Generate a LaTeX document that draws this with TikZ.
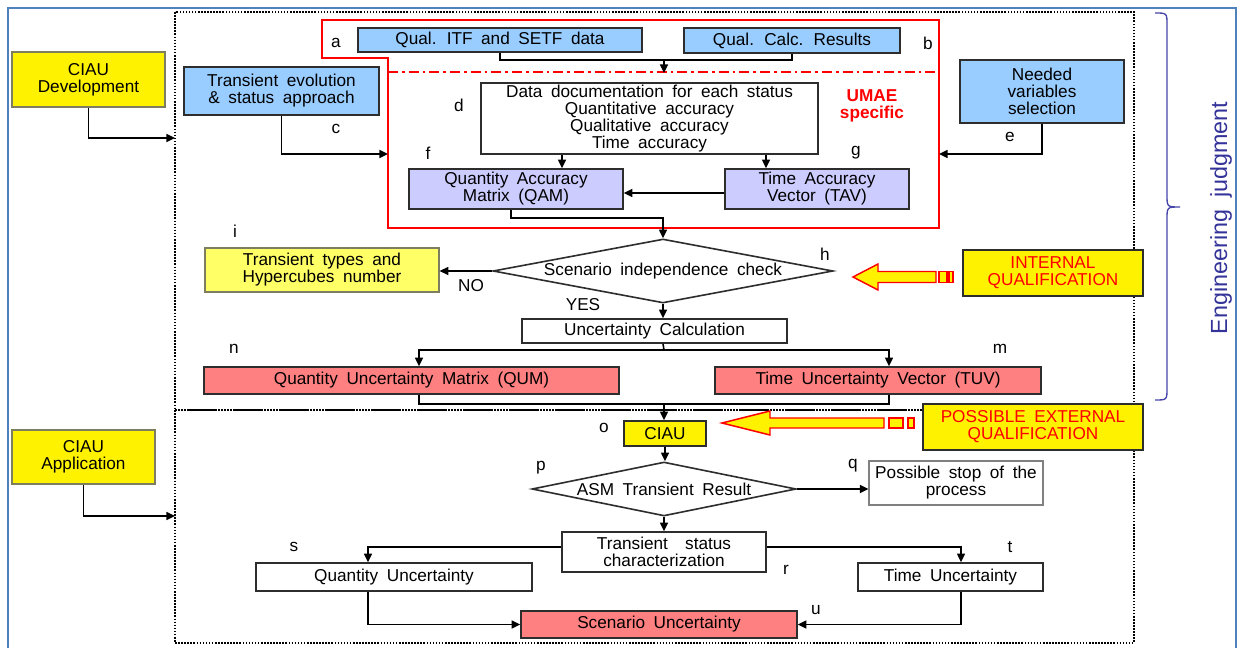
\documentclass[tikz,border=0pt]{standalone}
\usepackage{fontspec}
\setmainfont{Liberation Sans}[WordSpace=1.8]
\usetikzlibrary{shapes.geometric,arrows.meta,calc}
\definecolor{frameblue}{RGB}{79,129,189}
\definecolor{boxline}{RGB}{45,45,45}
\definecolor{sideline}{RGB}{125,125,95}
\definecolor{skyfill}{RGB}{153,204,255}
\definecolor{lavfill}{RGB}{204,204,255}
\definecolor{paleyellow}{RGB}{255,255,102}
\definecolor{salmon}{RGB}{255,128,128}
\definecolor{judgeblue}{RGB}{51,51,153}
\definecolor{bracecol}{RGB}{70,70,170}
\newcommand\bodyfs{\fontsize{12.9}{12.75}\selectfont}

\begin{document}
\begin{tikzpicture}[x=0.75pt,y=-0.75pt,
  wh/.style 2 args={minimum width=#1*0.75pt,minimum height=#2*0.75pt},
  box/.style={draw=boxline,line width=1.2pt,inner sep=0pt,align=center,font=\bodyfs},
  bluebox/.style={box,fill=skyfill},
  lavbox/.style={box,fill=lavfill},
  whitebox/.style={box,fill=white},
  thinbox/.style={box,fill=white,draw=gray,line width=0.8pt},
  redbox/.style={box,fill=salmon},
  ybox/.style={box,fill=yellow},
  sidebox/.style={box,fill=yellow,draw=sideline,line width=0.9pt},
  qualbox/.style={ybox,text=red},
  decision/.style={box,fill=white,shape=diamond,shape aspect=5.2},
  tag/.style={inner sep=0pt,font=\bodyfs},
  link/.style={draw=black,line width=1.2pt},
  arr/.style={link,-{Triangle[length=6.5pt,width=6pt]}},
  dotframe/.style={draw=black,line width=1.8pt,dash pattern=on 1.2pt off 1.1pt},
  blockarrow/.style={draw=red,fill=yellow,line width=1.1pt,line join=miter},
]
\useasboundingbox (0,0) rectangle (1239,648);
\fill[white] (0,0) rectangle (1239,648);

% outer frame
\draw[frameblue,line width=1.5pt] (8,650) -- (8,8) -- (1236,8) -- (1236,650);

% development and application areas
\draw[dotframe] (175,12) rectangle (1134,410);
\draw[dotframe] (175,410) rectangle (1134,643);

% UMAE specific region
\draw[red,line width=1.2pt] (322,20) -- (939,20) -- (939,228) -- (388,228) -- (388,58) -- (322,58) -- cycle;
\draw[red,line width=1.2pt,dash pattern=on 7.5pt off 3pt on 2pt off 3pt] (388,72) -- (939,72);

% side boxes
\node[sidebox,wh={153}{55}] (cdev) at (88.5,79.5) {CIAU\\Development};
\node[sidebox,wh={143}{54}] (capp) at (83.5,457) {CIAU\\Application};

% development steps
\node[bluebox,wh={195}{48}] (tevo) at (281.5,91) {Transient evolution\\\& status approach};
\node[bluebox,wh={284}{24}] (itf) at (500,40) {Qual. ITF and SETF data};
\node[bluebox,wh={216}{25}] (calc) at (792,40.5) {Qual. Calc. Results};
\node[whitebox,wh={337}{71}] (ddoc) at (649.5,118.5) {Data documentation for each status\\Quantitative accuracy\\Qualitative accuracy\\Time accuracy};
\node[lavbox,wh={214}{40}] (qam) at (516,189) {Quantity Accuracy\\Matrix (QAM)};
\node[lavbox,wh={184}{40}] (tav) at (817,189) {Time Accuracy\\Vector (TAV)};
\node[bluebox,wh={164}{63}] (need) at (1042,91.5) {Needed\\variables\\selection};
\node[box,fill=paleyellow,draw=sideline,line width=0.9pt,wh={234}{44}] (ttyp) at (322,270) {Transient types and\\Hypercubes number};
\node[decision,wh={340}{64}] (sic) at (663,271) {Scenario independence check};
\node[whitebox,wh={265}{24}] (uc) at (654.5,331) {Uncertainty Calculation};
\node[redbox,wh={415}{27}] (qum) at (411.5,380.5) {Quantity Uncertainty Matrix (QUM)};
\node[redbox,wh={326}{27}] (tuv) at (878,380.5) {Time Uncertainty Vector (TUV)};

% qualification boxes
\node[qualbox,wh={180}{46}] (iq) at (1053,273) {INTERNAL\\QUALIFICATION};
\node[qualbox,wh={220}{46}] (eq) at (1033,427) {POSSIBLE EXTERNAL\\QUALIFICATION};

% application steps
\node[ybox,wh={82}{25}] (ciau) at (665,433.5) {CIAU};
\node[decision,wh={264}{54}] (asm) at (664,489) {ASM Transient Result};
\node[thinbox,wh={174}{44}] (stop) at (956,483) {Possible stop of the\\process};
\node[whitebox,wh={204}{40}] (tsc) at (664,552) {Transient\ \ status\\characterization};
\node[whitebox,wh={276}{28}] (qu) at (394,577) {Quantity Uncertainty};
\node[whitebox,wh={185}{28}] (tu) at (950.5,577) {Time Uncertainty};
\node[redbox,wh={276}{27}] (scen) at (659,624.5) {Scenario Uncertainty};

% step letters
\node[tag] (la) at (336,43) {a};
\node[tag] (lb) at (928,43) {b};
\node[tag] (lc) at (336,129) {c};
\node[tag] (ld) at (459,105) {d};
\node[tag] (le) at (1010,137) {e};
\node[tag] (lf) at (428,153) {f};
\node[tag] (lg) at (856,153) {g};
\node[tag] (lh) at (825,254) {h};
\node[tag] (li) at (235,231) {i};
\node[tag] (ln) at (234,349) {n};
\node[tag] (lm) at (1000,349) {m};
\node[tag] (lo) at (604,428) {o};
\node[tag] (lp) at (541,468) {p};
\node[tag] (lq) at (853,466) {q};
\node[tag] (lr) at (786,570) {r};
\node[tag] (ls) at (294,547) {s};
\node[tag] (lt) at (1010,547) {t};
\node[tag] (lu) at (816,610) {u};
\node[tag] (no) at (471,286) {NO};
\node[tag] (yes) at (583,305) {YES};
\node[tag,text=red,font=\bodyfs\bfseries,align=center] (umae) at (872,106) {UMAE\\specific};

% engineering judgment brace
\draw[bracecol,line width=1pt] (1155,13) .. controls (1167,13) .. (1167,25) -- (1167,195)
  .. controls (1167,207) .. (1180,207) .. controls (1167,207) .. (1167,219) -- (1167,388)
  .. controls (1167,400) .. (1155,400);
\node[tag,rotate=90,text=judgeblue,font=\fontsize{17.5}{18}\selectfont] (ej) at (1221,218) {Engineering judgment};

% qualification arrows
\draw[blockarrow] (853,277) -- (878,264) -- (878,271.5) -- (936,271.5) -- (936,282.5) -- (878,282.5) -- (878,290) -- cycle;
\draw[blockarrow] (939,271.5) rectangle (947,282.5);
\draw[blockarrow] (949,271.5) rectangle (953,282.5);
\draw[blockarrow] (722,423) -- (770,411) -- (770,418) -- (884,418) -- (884,428) -- (770,428) -- (770,435) -- cycle;
\draw[blockarrow] (889,418) rectangle (903,428);
\draw[blockarrow] (908,418) rectangle (914,428);

% connectors
\coordinate (devin) at (175,138);
\coordinate (appin) at (175,516);
\coordinate (cin) at (388,154);
\coordinate (ein) at (939,154);
\coordinate (merge1) at (664,60);
\coordinate (ddin) at (664,73);
\coordinate (split) at (664,350);
\coordinate (merge2) at (664,404);

\draw[arr] (cdev.south) |- (devin);
\draw[arr] (capp.south) |- (appin);
\draw[arr] (tevo.south) |- (cin);
\draw[arr] (need.south) |- (ein);
\draw[link] (itf.south) |- (merge1) -| (calc.south);
\draw[arr] (merge1) -- (ddin);
\draw[arr] ($(ddoc.south)+(-87.5,0)$) -- ($(qam.north)+(46,0)$);
\draw[arr] ($(ddoc.south)+(116.5,0)$) -- ($(tav.north)+(-51,0)$);
\draw[arr] ($(tav.west)+(0,4)$) -- ($(qam.east)+(0,4)$);
\draw[arr] ($(qam.south)+(-5,0)$) -- ++(0,8) -| (sic.north);
\draw[arr] (sic.west) -- (sic.west -| ttyp.east);
\draw[arr] (sic.south) -- (sic.south |- uc.north);
\draw[link] (sic.south |- uc.south) -- (split);
\draw[arr] (split) -| ($(qum.north)+(7.5,0)$);
\draw[arr] (split) -| ($(tuv.north)+(11,0)$);
\draw[link] ($(qum.south)+(7.5,0)$) |- (merge2) -| ($(tuv.south)+(11,0)$);
\draw[arr] (merge2) -- (merge2 |- ciau.north);
\draw[arr] (ciau.south) -- (ciau.south |- asm.north);
\draw[arr] (asm.east) -- (asm.east -| stop.west);
\draw[arr] (asm.south) -- (asm.south |- tsc.north);
\draw[arr] ($(tsc.west)+(0,-5)$) -| ($(qu.north)+(-26,0)$);
\draw[arr] ($(tsc.east)+(0,-5)$) -| ($(tu.north)+(10.5,0)$);
\draw[arr] ($(qu.south)+(-26,0)$) |- (scen.west);
\draw[arr] ($(tu.south)+(10.5,0)$) |- (scen.east);
\end{tikzpicture}
\end{document}
